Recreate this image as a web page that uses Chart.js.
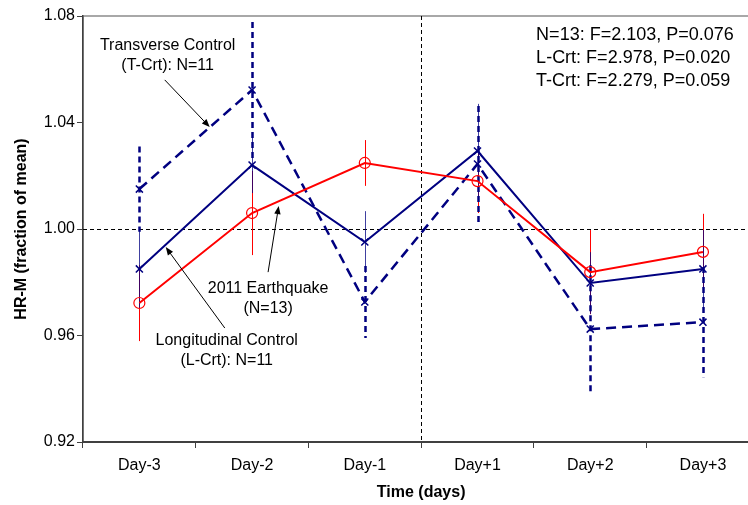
<!DOCTYPE html>
<html>
<head>
<meta charset="utf-8">
<script src="https://cdn.jsdelivr.net/npm/chart.js@4/dist/chart.umd.min.js"></script>
<style>
  html, body { margin: 0; padding: 0; background: #fff; overflow: hidden; }
  canvas { display: block; }
</style>
</head>
<body>
<canvas id="c" width="766" height="505"></canvas>
<script>
// Heart-rate means around the event, as a fraction of each group's mean
const days = ['Day-3', 'Day-2', 'Day-1', 'Day+1', 'Day+2', 'Day+3'];

const quake    = [0.9722, 1.0060, 1.0248, 1.0180, 0.9838, 0.9914];
const quakeErr = [0.0143, 0.0158, 0.0086, 0.0120, 0.0158, 0.0143];

const lCrt     = [0.9850, 1.0240, 0.9951, 1.0293, 0.9797, 0.9850];
const lCrtErr  = [0.0146, 0.0105, 0.0116, 0.0177, 0.0116, 0.0146];

const tCrt     = [1.0150, 1.0522, 0.9726, 1.0244, 0.9624, 0.9650];
const tCrtErr  = [0.0160, 0.0255, 0.0135, 0.0218, 0.0240, 0.0207];

const yTicks = [0.92, 0.96, 1.00, 1.04, 1.08];

const statLines = [
  'N=13: F=2.103, P=0.076',
  'L-Crt: F=2.978, P=0.020',
  'T-Crt: F=2.279, P=0.059'
];

// Callout labels, anchored in (category index, value) space
const callouts = [
  { lines: ['Transverse Control', '(T-Crt): N=11'], at: [0.251, 1.0687], from: [0.225, 1.0560], to: [0.624, 1.0383] },
  { lines: ['2011 Earthquake', '(N=13)'],            at: [1.142, 0.9778], from: [1.142, 0.9838], to: [1.236, 1.0086] },
  { lines: ['Longitudinal Control', '(L-Crt): N=11'], at: [0.775, 0.9580], from: [0.758, 0.9628], to: [0.234, 0.9932] }
];
const statsAnchor = [3.52, 1.0729];

const FONT = "'Liberation Sans', Arial, sans-serif";

const extras = {
  id: 'extras',
  beforeDraw(chart) {
    const { ctx, chartArea: a } = chart;
    ctx.save();
    ctx.strokeStyle = '#8c8c8c';
    ctx.lineWidth = 1.5;
    ctx.strokeRect(a.left, a.top, a.right - a.left, a.bottom - a.top);
    ctx.restore();
  },
  beforeDatasetsDraw(chart) {
    const { ctx, chartArea: a, scales: { x, y } } = chart;
    ctx.save();
    // reference lines: mean level and event boundary
    ctx.strokeStyle = '#000';
    ctx.lineWidth = 1;
    ctx.setLineDash([4, 3]);
    const y1 = Math.round(y.getPixelForValue(1.0)) + 0.5;
    ctx.beginPath(); ctx.moveTo(a.left, y1); ctx.lineTo(a.right, y1); ctx.stroke();
    const xb = Math.round(x.getPixelForValue(2.5)) + 0.5;
    ctx.beginPath(); ctx.moveTo(xb, a.top); ctx.lineTo(xb, a.bottom); ctx.stroke();

    // error bars
    const bars = (vals, errs, color, width, dash) => {
      ctx.strokeStyle = color;
      ctx.lineWidth = width;
      ctx.setLineDash(dash);
      vals.forEach((v, i) => {
        const px = Math.round(x.getPixelForValue(i)) + (width % 2 ? 0.5 : 0);
        ctx.beginPath();
        ctx.moveTo(px, y.getPixelForValue(v + errs[i]));
        ctx.lineTo(px, y.getPixelForValue(v - errs[i]));
        ctx.stroke();
      });
    };
    bars(quake, quakeErr, '#ff0000', 1, []);
    bars(lCrt, lCrtErr, 'rgba(0,0,128,0.75)', 1, []);
    bars(tCrt, tCrtErr, '#000080', 2.5, [6, 4]);
    ctx.restore();
  },
  afterDatasetsDraw(chart) {
    const { ctx, scales: { x, y } } = chart;
    ctx.save();
    ctx.fillStyle = '#000';
    ctx.strokeStyle = '#000';
    ctx.font = '16px ' + FONT;
    ctx.textAlign = 'center';
    ctx.textBaseline = 'middle';
    callouts.forEach(c => {
      const tx = x.getPixelForValue(c.at[0]);
      const ty = y.getPixelForValue(c.at[1]);
      c.lines.forEach((t, k) => ctx.fillText(t, tx, ty + k * 20));
      const x0 = x.getPixelForValue(c.from[0]), y0 = y.getPixelForValue(c.from[1]);
      const x1 = x.getPixelForValue(c.to[0]),   y1 = y.getPixelForValue(c.to[1]);
      const ang = Math.atan2(y1 - y0, x1 - x0);
      const L = 8, W = 3.2;
      ctx.lineWidth = 1;
      ctx.beginPath();
      ctx.moveTo(x0, y0);
      ctx.lineTo(x1 - Math.cos(ang) * L * 0.8, y1 - Math.sin(ang) * L * 0.8);
      ctx.stroke();
      ctx.beginPath();
      ctx.moveTo(x1, y1);
      ctx.lineTo(x1 - Math.cos(ang) * L - Math.sin(ang) * W, y1 - Math.sin(ang) * L + Math.cos(ang) * W);
      ctx.lineTo(x1 - Math.cos(ang) * L + Math.sin(ang) * W, y1 - Math.sin(ang) * L - Math.cos(ang) * W);
      ctx.closePath();
      ctx.fill();
    });
    ctx.font = '18px ' + FONT;
    ctx.textAlign = 'left';
    const sx = x.getPixelForValue(statsAnchor[0]);
    const sy = y.getPixelForValue(statsAnchor[1]);
    statLines.forEach((t, k) => ctx.fillText(t, sx, sy + k * 23));
    ctx.restore();
  }
};

new Chart(document.getElementById('c'), {
  type: 'line',
  data: {
    labels: days,
    datasets: [
      {
        label: '2011 Earthquake (N=13)', data: quake,
        borderColor: '#ff0000', borderWidth: 2,
        pointStyle: 'circle', pointRadius: 5.5, pointBorderWidth: 1.2,
        pointBorderColor: '#ff0000', pointBackgroundColor: 'rgba(0,0,0,0)'
      },
      {
        label: 'Longitudinal Control (L-Crt): N=11', data: lCrt,
        borderColor: '#000080', borderWidth: 2,
        pointStyle: 'crossRot', pointRadius: 5, pointBorderWidth: 1.5,
        pointBorderColor: '#000080'
      },
      {
        label: 'Transverse Control (T-Crt): N=11', data: tCrt,
        borderColor: '#000080', borderWidth: 2.5, borderDash: [10, 6],
        pointStyle: 'crossRot', pointRadius: 5, pointBorderWidth: 1.5,
        pointBorderColor: '#000080'
      }
    ]
  },
  options: {
    responsive: false,
    animation: false,
    devicePixelRatio: 1,
    layout: { padding: { top: 16, right: 1, left: 0, bottom: 0 } },
    elements: { line: { tension: 0, fill: false } },
    plugins: { legend: { display: false }, tooltip: { enabled: false } },
    scales: {
      x: {
        type: 'category',
        offset: true,
        grid: { offset: true, drawOnChartArea: false, drawTicks: true, tickLength: 6, color: '#404040', lineWidth: 1 },
        border: { color: '#404040', width: 2 },
        ticks: { color: '#000', font: { family: FONT, size: 16 }, padding: 8, maxRotation: 0 },
        title: { display: true, text: 'Time (days)', color: '#000', font: { family: FONT, size: 16, weight: 'bold' }, padding: { top: 0, bottom: 3 } },
        afterFit: s => { s.height = 63; }
      },
      y: {
        min: 0.92, max: 1.08,
        grid: { drawOnChartArea: false, drawTicks: true, tickLength: 6, color: '#404040', lineWidth: 1 },
        border: { color: '#404040', width: 1.5 },
        ticks: { color: '#000', font: { family: FONT, size: 16 }, padding: 2, callback: v => Number(v).toFixed(2) },
        afterBuildTicks: s => { s.ticks = yTicks.map(v => ({ value: v })); },
        title: { display: true, text: 'HR-M (fraction of mean)', color: '#000', font: { family: FONT, size: 16, weight: 'bold' }, padding: { top: 12, bottom: 0 } },
        afterFit: s => { s.width = 83; }
      }
    }
  },
  plugins: [extras]
});
</script>
</body>
</html>
